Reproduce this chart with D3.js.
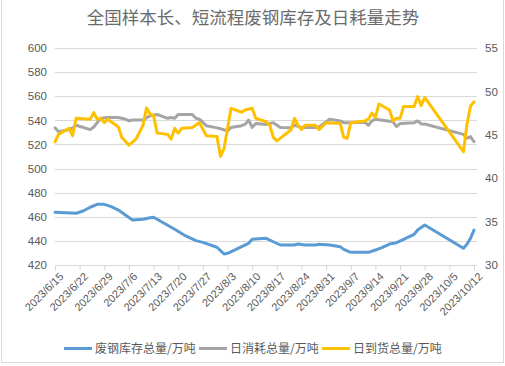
<!DOCTYPE html>
<html><head><meta charset="utf-8">
<script src="https://cdn.jsdelivr.net/npm/d3@7"></script>
<style>
html,body{margin:0;padding:0;background:#fff;}
svg{display:block;}
</style></head>
<body>
<svg id="chart" width="505" height="366"></svg>
<script>
const titleText = "全国样本长、短流程废钢库存及日耗量走势";
const seriesNames = ["废钢库存总量/万吨", "日消耗总量/万吨", "日到货总量/万吨"];
const seriesColors = ["#5b9bd5", "#a5a5a5", "#ffc000"];

const tickLabels = ["2023/6/15","2023/6/22","2023/6/29","2023/7/6","2023/7/13","2023/7/20","2023/7/27","2023/8/3","2023/8/10","2023/8/17","2023/8/24","2023/8/31","2023/9/7","2023/9/14","2023/9/21","2023/9/28","2023/10/5","2023/10/12"];
const leftTicks = [420,440,460,480,500,520,540,560,580,600];
const rightTicks = [30,35,40,45,50,55];

// 废钢库存总量 (left axis)
const invDates = ["6/15","6/18","6/21","6/23","6/25","6/27","6/29","7/1","7/3","7/5","7/7","7/10","7/12","7/13","7/16","7/19","7/22","7/25","7/27","7/31","8/1","8/2","8/3","8/5","8/7","8/9","8/10","8/11","8/14","8/16","8/18","8/22","8/23","8/25","8/28","8/29","9/1","9/4","9/5","9/7","9/12","9/14","9/16","9/18","9/20","9/22","9/25","9/26","9/28","10/9","10/10","10/11","10/12"];
const invValues = [463.7,463.4,462.9,464.8,467.9,470.3,470.3,468.4,465.6,461.5,457.3,457.9,459.2,459.6,454.6,449.6,444.3,440.2,438.8,434.7,431.9,429.1,429.7,432.4,435.2,438.0,441.3,441.6,442.1,439.3,436.6,436.6,437.4,436.6,436.6,437.2,436.6,435.2,433.0,430.5,430.5,432.4,434.7,437.4,438.5,441.3,445.4,449.0,453.2,433.9,437.2,442.1,449.0];

// 日消耗总量 (right axis)
const consDates = ["6/15","6/16","6/19","6/20","6/21","6/25","6/26","6/28","6/30","7/3","7/5","7/6","7/7","7/10","7/12","7/14","7/17","7/18","7/19","7/20","7/24","7/25","7/26","7/28","7/31","8/1","8/3","8/4","8/7","8/8","8/9","8/10","8/11","8/14","8/16","8/18","8/21","8/22","8/24","8/28","8/29","9/1","9/4","9/5","9/7","9/11","9/12","9/13","9/14","9/19","9/20","9/21","9/25","9/26","9/27","9/28","10/9","10/10","10/11","10/12"];
const consValues = [45.8,45.35,45.6,45.8,46.1,45.6,45.9,46.9,47.0,47.0,46.8,46.6,46.7,46.7,47.2,47.35,46.9,47.0,46.9,47.35,47.35,46.9,46.8,46.05,45.8,45.7,45.45,45.85,46.05,46.2,46.7,45.85,46.3,46.2,46.4,45.85,45.8,46.1,45.85,45.85,45.9,46.8,46.6,46.4,46.4,46.45,46.1,46.6,46.8,46.5,45.95,46.3,46.4,46.6,46.25,46.25,45.05,44.6,44.8,44.2];

// 日到货总量 (right axis)
const arrDates = ["6/15","6/16","6/19","6/20","6/21","6/25","6/26","6/27","6/28","6/29","6/30","7/3","7/4","7/6","7/8","7/10","7/11","7/12","7/13","7/14","7/17","7/18","7/19","7/20","7/21","7/24","7/26","7/28","7/31","8/1","8/2","8/4","8/7","8/8","8/10","8/11","8/14","8/15","8/16","8/17","8/21","8/22","8/23","8/24","8/25","8/28","8/29","8/31","9/4","9/5","9/6","9/7","9/11","9/12","9/13","9/14","9/15","9/18","9/19","9/20","9/21","9/22","9/25","9/26","9/27","9/28","10/9","10/10","10/11","10/12"];
const arrValues = [44.2,45.05,45.75,44.9,46.9,46.8,47.55,46.8,46.9,46.4,46.8,45.9,44.7,43.8,44.5,46.1,48.1,47.4,47.2,45.2,45.05,44.5,45.75,45.2,45.75,45.85,46.4,44.9,44.8,42.5,43.4,48.05,47.6,47.85,48.05,46.9,46.5,46.1,44.7,44.3,45.55,46.9,46.1,45.6,46.1,46.1,45.6,46.4,46.3,44.7,44.6,46.4,46.6,46.8,47.5,47.0,48.55,47.85,46.6,46.9,46.9,48.25,48.25,49.4,48.35,49.3,43.05,46.2,48.3,48.8];

const parse = d3.timeParse("%Y/%m/%d");
const pd = s => parse("2023/" + s);

const svg = d3.select("#chart");
const plot = {left: 55, right: 474, top: 48, bottom: 265};

const x = d3.scaleTime().domain([parse(tickLabels[0]), parse(tickLabels[tickLabels.length-1])]).range([plot.left, plot.right]);
const yL = d3.scaleLinear().domain([420, 600]).range([plot.bottom, plot.top]);
const yR = d3.scaleLinear().domain([30, 55]).range([plot.bottom, plot.top]);

// chart frame
svg.append("rect").attr("x", 1.5).attr("y", -2).attr("width", 502).attr("height", 364.5)
  .attr("fill", "none").attr("stroke", "#d9d9d9").attr("stroke-width", 1);

// title
svg.append("text").attr("x", 253).attr("y", 24).attr("text-anchor", "middle")
  .attr("font-family", "'Noto Sans CJK SC', sans-serif").attr("font-size", 17.5)
  .attr("fill", "#6b6b6b").text(titleText);

// gridlines
svg.append("g").selectAll("line").data(leftTicks.slice(1)).join("line")
  .attr("x1", plot.left).attr("x2", plot.right + 3)
  .attr("y1", d => Math.round(yL(d)) + 0.5).attr("y2", d => Math.round(yL(d)) + 0.5)
  .attr("stroke", "#d9d9d9").attr("stroke-width", 1);

// left axis labels
const gL = svg.append("g").attr("transform", `translate(${plot.left},0)`)
  .call(d3.axisLeft(yL).tickValues(leftTicks).tickSize(0).tickPadding(8));
gL.select(".domain").remove();
gL.selectAll("text").attr("font-family", "'Liberation Sans', Arial, sans-serif").attr("font-size", 11.5).attr("fill", "#595959");

// right axis labels
const gR = svg.append("g").attr("transform", `translate(${plot.right + 3},0)`)
  .call(d3.axisRight(yR).tickValues(rightTicks).tickSize(0).tickPadding(8));
gR.select(".domain").remove();
gR.selectAll("text").attr("font-family", "'Liberation Sans', Arial, sans-serif").attr("font-size", 11.5).attr("fill", "#595959");

// bottom axis
const gX = svg.append("g").attr("transform", `translate(0,${Math.round(plot.bottom)+0.5})`)
  .call(d3.axisBottom(x).tickValues(tickLabels.map(parse)).tickSize(5).tickFormat(""));
gX.select(".domain").attr("d", `M${plot.left},0H${plot.right+3}`).attr("stroke", "#d9d9d9");
gX.selectAll(".tick line").attr("stroke", "#d9d9d9");
gX.selectAll(".tick").append("text")
  .attr("transform", "translate(6,9) rotate(-45)")
  .attr("text-anchor", "end").attr("dy", "0.35em")
  .attr("font-family", "'Liberation Sans', Arial, sans-serif").attr("font-size", 11)
  .attr("fill", "#595959")
  .text((d, i) => tickLabels[i]);

// lines
function drawLine(dates, values, yScale, color) {
  const data = dates.map((d, i) => ({d: pd(d), v: values[i]}));
  svg.append("path").datum(data)
    .attr("fill", "none").attr("stroke", color).attr("stroke-width", 3)
    .attr("stroke-linejoin", "round").attr("stroke-linecap", "round")
    .attr("d", d3.line().x(p => x(p.d)).y(p => yScale(p.v)));
}
drawLine(invDates, invValues, yL, seriesColors[0]);
drawLine(consDates, consValues, yR, seriesColors[1]);
drawLine(arrDates, arrValues, yR, seriesColors[2]);

// legend
const legendX = [64, 199, 322];
const lg = svg.append("g");
seriesNames.forEach((name, i) => {
  lg.append("line").attr("x1", legendX[i]).attr("x2", legendX[i] + 28)
    .attr("y1", 348.5).attr("y2", 348.5)
    .attr("stroke", seriesColors[i]).attr("stroke-width", 3);
  lg.append("text").attr("x", legendX[i] + 31).attr("y", 349).attr("dy", "0.35em")
    .attr("font-family", "'Noto Sans CJK SC', sans-serif").attr("font-size", 12)
    .attr("fill", "#595959").text(name);
});
</script>
</body></html>
